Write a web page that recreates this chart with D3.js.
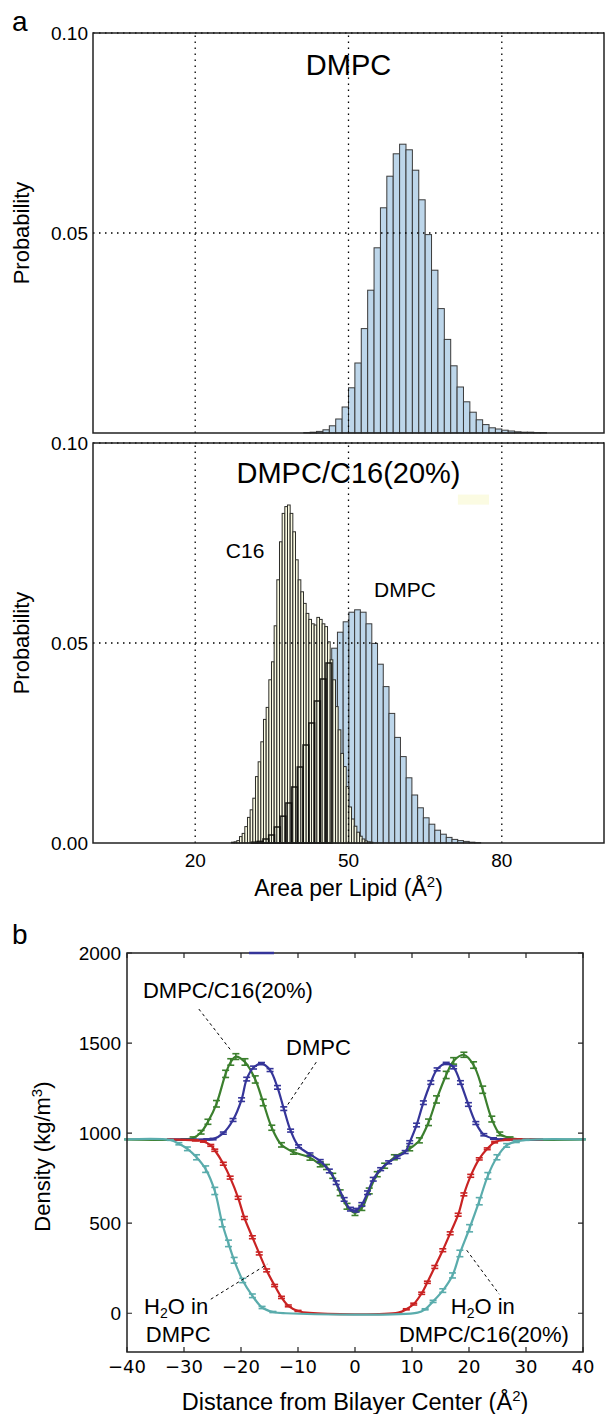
<!DOCTYPE html>
<html>
<head>
<meta charset="utf-8">
<script src="https://cdn.jsdelivr.net/npm/d3@7"></script>
<style>
body { margin: 0; background: #fff; }
svg { display: block; }
text { font-family: "Liberation Sans", Arial, sans-serif; fill: #000; }
</style>
</head>
<body>
<div id="app"></div>
<script>
// ---- panel a: area per lipid histograms (first bin start, bin width, probability per bin)
const dmpcPureStart = 41.25;
const dmpcPureWidth = 1.25;
const dmpcPure = [0.0001, 0.0002, 0.0004, 0.0008, 0.0018, 0.0035, 0.0065, 0.0113, 0.0175, 0.0261,
	0.0357, 0.0463, 0.0563, 0.0642, 0.0698, 0.0722, 0.0708, 0.0657, 0.0583, 0.0496,
	0.0407, 0.0311, 0.0234, 0.0168, 0.0115, 0.0078, 0.0052, 0.0033, 0.0021, 0.0013,
	0.0010, 0.0007, 0.0005, 0.0003, 0.0002, 0.0002, 0.0001, 0.0001];

const dmpcMixStart = 31.02;
const dmpcMixWidth = 1.121;
const dmpcMix = [0.0002, 0.0004, 0.0010, 0.0020, 0.0040, 0.0067, 0.0100, 0.0140, 0.0190, 0.0245,
	0.0300, 0.0355, 0.0410, 0.0450, 0.0487, 0.0527, 0.0553, 0.0577, 0.0583, 0.0577,
	0.0548, 0.0499, 0.0447, 0.0391, 0.0324, 0.0264, 0.0216, 0.0163, 0.0120, 0.0088,
	0.0063, 0.0047, 0.0032, 0.0022, 0.0014, 0.0009, 0.0006, 0.0004, 0.0002, 0.0001];

const c16MixStart = 27.1;
const c16MixWidth = 0.522;
const c16Mix = [0.0002, 0.0003, 0.0006, 0.0016, 0.0024, 0.0041, 0.0064, 0.0083, 0.0112, 0.0166,
	0.0203, 0.0253, 0.0309, 0.0339, 0.0408, 0.0453, 0.0543, 0.0658, 0.0753, 0.0824,
	0.0841, 0.0845, 0.0824, 0.0778, 0.0708, 0.0658, 0.0628, 0.0599, 0.0574, 0.0559,
	0.0548, 0.0545, 0.0564, 0.0559, 0.0548, 0.0541, 0.0503, 0.0458, 0.0408, 0.0341,
	0.0283, 0.0224, 0.0191, 0.0141, 0.0090, 0.0060, 0.0042, 0.0027, 0.0017, 0.0010,
	0.0005, 0.0003, 0.0002];

const areaTicks = [20, 50, 80];
const probTicksTop = [0.05, 0.10];
const probTicksBottom = [0.00, 0.05, 0.10];

// ---- panel b: density profiles, [distance, density, error]
const dmpcProfile = [[-33, 965, 0], [-26, 965, 3], [-24.9, 967, 4], [-23.1, 1000, 6], [-21.4, 1073, 8],
	[-19.9, 1186, 10], [-19.0, 1300, 10], [-17.8, 1364, 8], [-16.4, 1386, 6], [-14.9, 1350, 8],
	[-13.6, 1254, 10], [-12.5, 1136, 10], [-11.3, 1014, 8], [-9.9, 927, 8], [-7.9, 882, 8],
	[-6.1, 845, 8], [-4.5, 790, 10], [-3.3, 725, 10], [-1.9, 632, 10], [-0.8, 578, 10],
	[0.2, 572, 10], [1.2, 604, 10], [2.2, 669, 10], [3.2, 744, 10], [4.5, 800, 8],
	[5.9, 838, 8], [7.4, 868, 8], [8.8, 895, 8], [9.6, 950, 8], [10.8, 1045, 10],
	[12.0, 1169, 10], [13.3, 1281, 10], [14.4, 1354, 8], [16.0, 1387, 6], [17.3, 1365, 8],
	[18.5, 1281, 10], [19.9, 1159, 10], [21.2, 1056, 8], [22.6, 991, 6], [24.3, 970, 4],
	[26, 965, 3], [33, 965, 0]];

const mixProfile = [[-40.5, 965, 0], [-30, 965, 3], [-28.4, 973, 6], [-27.0, 1005, 10], [-25.8, 1063, 14],
	[-24.3, 1163, 18], [-22.7, 1329, 20], [-21.8, 1395, 18], [-20.9, 1425, 16], [-19.3, 1395, 18],
	[-17.5, 1298, 20], [-16.1, 1170, 18], [-14.6, 1030, 14], [-12.9, 935, 12], [-10.8, 895, 12],
	[-7.9, 864, 14], [-6.1, 827, 14], [-5.0, 812, 14], [-3.9, 763, 14], [-2.6, 669, 16],
	[-1.4, 594, 16], [0, 557, 14], [1.2, 585, 14], [2.5, 679, 16], [3.9, 772, 14],
	[5.2, 819, 14], [6.9, 866, 14], [9.6, 914, 12], [11.3, 960, 14], [12.9, 1060, 18],
	[14.3, 1187, 20], [16.0, 1323, 20], [17.3, 1401, 18], [19.1, 1435, 14], [20.8, 1378, 18],
	[22.4, 1241, 20], [24.0, 1078, 16], [25.4, 996, 10], [27.2, 973, 6], [29, 965, 3],
	[40.5, 965, 0]];

const waterDmpcProfile = [[-33, 965, 0], [-28, 960, 3], [-26.6, 954, 4], [-25.3, 932, 5], [-24.6, 905, 6],
	[-23.1, 830, 8], [-21.9, 753, 8], [-20.5, 641, 8], [-19.4, 529, 8], [-18.0, 422, 8],
	[-16.8, 332, 8], [-15.5, 238, 8], [-14.1, 154, 6], [-12.9, 88, 6], [-11.7, 41, 5],
	[-10.0, 13, 3], [-8.0, 2, 0], [7.6, 4, 0], [9.0, 22, 3], [10.3, 51, 5],
	[11.7, 111, 6], [12.7, 172, 6], [14.0, 257, 8], [15.4, 350, 8], [16.7, 444, 8],
	[18.1, 547, 8], [19.1, 660, 8], [20.3, 763, 8], [21.8, 857, 6], [23.2, 913, 5],
	[24.5, 950, 4], [26.6, 963, 3], [33, 965, 0]];

const waterMixProfile = [[-40.5, 965, 0], [-32.4, 962, 2], [-30.9, 941, 6], [-29.4, 913, 10], [-27.8, 866, 14],
	[-26.2, 800, 18], [-24.6, 679, 20], [-23.3, 500, 20], [-22.2, 388, 18], [-21.2, 294, 16],
	[-19.7, 182, 12], [-18.0, 97, 10], [-16.3, 32, 6], [-14.4, 7, 3], [-12.1, 0, 0],
	[11.0, 4, 0], [12.3, 22, 3], [13.7, 66, 6], [15.4, 126, 10], [17.1, 210, 14],
	[18.4, 332, 18], [20.1, 472, 20], [21.8, 622, 20], [23.3, 763, 18], [24.9, 866, 14],
	[26.6, 932, 10], [28.3, 954, 6], [30.0, 963, 3], [40.5, 965, 0]];

const distanceTicks = [-40, -30, -20, -10, 0, 10, 20, 30, 40];
const densityTicks = [0, 500, 1000, 1500, 2000];

const toBins = (start, width, values) => values.map((p, i) => ({
	x0: start + i * width,
	x1: start + (i + 1) * width,
	p,
}));

const svg = d3.select('#app').append('svg')
	.attr('width', 606)
	.attr('height', 1414);

// ================= panel a =================
const xA = d3.scaleLinear().domain([0, 100]).range([93, 604]);
const yTop = d3.scaleLinear().domain([0, 0.1]).range([433, 33]);
const yBot = d3.scaleLinear().domain([0, 0.1]).range([843, 443]);

const bars = (g, bins, y, fill, stroke, fillOpacity) => {
	g.append('g')
		.selectAll('rect')
		.data(bins)
		.enter()
		.append('rect')
		.attr('x', (d) => xA(d.x0))
		.attr('width', (d) => xA(d.x1) - xA(d.x0))
		.attr('y', (d) => y(d.p))
		.attr('height', (d) => y(0) - y(d.p))
		.attr('fill', fill)
		.attr('fill-opacity', fillOpacity)
		.attr('stroke', stroke)
		.attr('stroke-width', 1);
};

const grid = (g, y, yTicks) => {
	g.append('g')
		.selectAll('line')
		.data(areaTicks)
		.enter()
		.append('line')
		.attr('x1', (d) => xA(d))
		.attr('x2', (d) => xA(d))
		.attr('y1', y(0))
		.attr('y2', y(0.1))
		.attr('stroke', '#000')
		.attr('stroke-width', 1.3)
		.attr('stroke-dasharray', '1.5,4.5');
	g.append('g')
		.selectAll('line')
		.data(yTicks)
		.enter()
		.append('line')
		.attr('x1', xA(0))
		.attr('x2', xA(100))
		.attr('y1', (d) => y(d))
		.attr('y2', (d) => y(d))
		.attr('stroke', '#000')
		.attr('stroke-width', 1.3)
		.attr('stroke-dasharray', '1.5,4.5');
};

const frame = (g, y) => {
	g.append('rect')
		.attr('x', xA(0))
		.attr('y', y(0.1))
		.attr('width', xA(100) - xA(0))
		.attr('height', y(0) - y(0.1))
		.attr('fill', 'none')
		.attr('stroke', '#222')
		.attr('stroke-width', 1.5);
};

const yTickLabels = (g, y, ticks) => {
	g.append('g')
		.selectAll('text')
		.data(ticks)
		.enter()
		.append('text')
		.attr('x', xA(0) - 5)
		.attr('y', (d) => y(d))
		.attr('dy', '0.35em')
		.attr('text-anchor', 'end')
		.attr('font-size', 19)
		.text((d) => d3.format('.2f')(d));
};

const probLabel = (g, y) => {
	g.append('text')
		.attr('transform', `translate(29, ${y(0.05)}) rotate(-90)`)
		.attr('text-anchor', 'middle')
		.attr('font-size', 22)
		.text('Probability');
};

// top: pure DMPC
const topPanel = svg.append('g');
bars(topPanel, toBins(dmpcPureStart, dmpcPureWidth, dmpcPure), yTop, '#bdd6ea', '#3a3a3a', 1);
grid(topPanel, yTop, probTicksTop);
frame(topPanel, yTop);
yTickLabels(topPanel, yTop, probTicksTop);
probLabel(topPanel, yTop);
topPanel.append('text')
	.attr('x', xA(50))
	.attr('y', 75)
	.attr('text-anchor', 'middle')
	.attr('font-size', 29)
	.text('DMPC');

// bottom: DMPC/C16 mixture
const botPanel = svg.append('g');
const mixBins = toBins(dmpcMixStart, dmpcMixWidth, dmpcMix);
const c16Bins = toBins(c16MixStart, c16MixWidth, c16Mix);
const c16At = (v) => {
	const b = c16Bins.find((d) => d.x0 <= v && v < d.x1);
	return b ? b.p : 0;
};
bars(botPanel, mixBins, yBot, '#bdd6ea', '#3a3a3a', 1);
bars(botPanel, c16Bins, yBot, '#fbfbdf', '#2e2e2a', 0.88);
// DMPC bars seen through the taller C16 bars
botPanel.append('g')
	.selectAll('rect')
	.data(mixBins.filter((d) => c16At((d.x0 + d.x1) / 2) > d.p))
	.enter()
	.append('rect')
	.attr('x', (d) => xA(d.x0))
	.attr('width', (d) => xA(d.x1) - xA(d.x0))
	.attr('y', (d) => yBot(d.p))
	.attr('height', (d) => yBot(0) - yBot(d.p))
	.attr('fill', 'none')
	.attr('stroke', '#0c0c08')
	.attr('stroke-width', 1.6)
	.attr('stroke-opacity', 0.85);
grid(botPanel, yBot, probTicksBottom.filter((d) => d > 0));
frame(botPanel, yBot);
yTickLabels(botPanel, yBot, probTicksBottom);
probLabel(botPanel, yBot);

// leftover legend patch
botPanel.append('rect')
	.attr('x', xA(71.4))
	.attr('y', yBot(0.0871))
	.attr('width', xA(77.5) - xA(71.4))
	.attr('height', yBot(0.0846) - yBot(0.0871))
	.attr('fill', '#fbfbe2');

botPanel.append('text')
	.attr('x', xA(50))
	.attr('y', 483)
	.attr('text-anchor', 'middle')
	.attr('font-size', 29)
	.text('DMPC/C16(20%)');
botPanel.append('text')
	.attr('x', xA(26))
	.attr('y', yBot(0.0712))
	.attr('font-size', 21)
	.text('C16');
botPanel.append('text')
	.attr('x', xA(55))
	.attr('y', yBot(0.0614))
	.attr('font-size', 21)
	.text('DMPC');

botPanel.append('g')
	.selectAll('text')
	.data(areaTicks)
	.enter()
	.append('text')
	.attr('x', (d) => xA(d))
	.attr('y', 867)
	.attr('text-anchor', 'middle')
	.attr('font-size', 19)
	.text((d) => d);

const areaLabel = botPanel.append('text')
	.attr('x', xA(50))
	.attr('y', 896)
	.attr('text-anchor', 'middle')
	.attr('font-size', 23);
areaLabel.append('tspan').text('Area per Lipid (Å');
areaLabel.append('tspan').attr('dy', -9).attr('font-size', 15).text('2');
areaLabel.append('tspan').attr('dy', 9).text(')');

svg.append('text').attr('x', 12).attr('y', 31).attr('font-size', 28).text('a');

// ================= panel b =================
const xB = d3.scaleLinear().domain([-40, 40]).range([127, 583]);
const yB = d3.scaleLinear().domain([-215, 2000]).range([1352, 953]);
const pb = svg.append('g');

pb.append('text').attr('x', 12).attr('y', 944).attr('font-size', 28).text('b');

const profileLine = d3.line()
	.x((d) => xB(d[0]))
	.y((d) => yB(d[1]))
	.curve(d3.curveCatmullRom.alpha(0.5));

const profiles = [
	{data: mixProfile, color: '#3b7f2d'},
	{data: dmpcProfile, color: '#353599'},
	{data: waterDmpcProfile, color: '#c92323'},
	{data: waterMixProfile, color: '#5aacac'},
];

profiles.forEach((s) => {
	const g = pb.append('g');
	g.append('path')
		.attr('d', profileLine(s.data))
		.attr('fill', 'none')
		.attr('stroke', s.color)
		.attr('stroke-width', 2.2);
	const eb = g.selectAll('g')
		.data(s.data.filter((d) => d[2] > 0))
		.enter()
		.append('g')
		.attr('stroke', s.color)
		.attr('stroke-width', 1.6);
	eb.append('line')
		.attr('x1', (d) => xB(d[0]))
		.attr('x2', (d) => xB(d[0]))
		.attr('y1', (d) => yB(d[1] - d[2]))
		.attr('y2', (d) => yB(d[1] + d[2]));
	eb.append('line')
		.attr('x1', (d) => xB(d[0]) - 3.5)
		.attr('x2', (d) => xB(d[0]) + 3.5)
		.attr('y1', (d) => yB(d[1] - d[2]))
		.attr('y2', (d) => yB(d[1] - d[2]));
	eb.append('line')
		.attr('x1', (d) => xB(d[0]) - 3.5)
		.attr('x2', (d) => xB(d[0]) + 3.5)
		.attr('y1', (d) => yB(d[1] + d[2]))
		.attr('y2', (d) => yB(d[1] + d[2]));
});

// frame and inward ticks
pb.append('rect')
	.attr('x', xB(-40))
	.attr('y', yB(2000))
	.attr('width', xB(40) - xB(-40))
	.attr('height', yB(-215) - yB(2000))
	.attr('fill', 'none')
	.attr('stroke', '#222')
	.attr('stroke-width', 1.5);

pb.append('line')
	.attr('x1', xB(-18.6))
	.attr('x2', xB(-14.2))
	.attr('y1', yB(2000))
	.attr('y2', yB(2000))
	.attr('stroke', '#353599')
	.attr('stroke-width', 2.5);

const tickLen = 5;
pb.append('g')
	.selectAll('path')
	.data(distanceTicks)
	.enter()
	.append('path')
	.attr('d', (d) => `M${xB(d)},${yB(2000)}v${tickLen}M${xB(d)},${yB(-215)}v${-tickLen}`)
	.attr('stroke', '#222')
	.attr('stroke-width', 1.2);
pb.append('g')
	.selectAll('path')
	.data(densityTicks)
	.enter()
	.append('path')
	.attr('d', (d) => `M${xB(-40)},${yB(d)}h${tickLen}M${xB(40)},${yB(d)}h${-tickLen}`)
	.attr('stroke', '#222')
	.attr('stroke-width', 1.2);

pb.append('g')
	.selectAll('text')
	.data(densityTicks)
	.enter()
	.append('text')
	.attr('x', xB(-40) - 6)
	.attr('y', (d) => yB(d))
	.attr('dy', '0.35em')
	.attr('text-anchor', 'end')
	.attr('font-size', 19)
	.text((d) => d);

pb.append('g')
	.selectAll('text')
	.data(distanceTicks)
	.enter()
	.append('text')
	.attr('x', (d) => xB(d))
	.attr('y', 1373)
	.attr('text-anchor', 'middle')
	.attr('font-size', 18)
	.style('font-family', '"DejaVu Sans", sans-serif')
	.text((d) => (d < 0 ? '\u2212' + Math.abs(d) : d));

const distLabel = pb.append('text')
	.attr('x', xB(0))
	.attr('y', 1410)
	.attr('text-anchor', 'middle')
	.attr('font-size', 23.5);
distLabel.append('tspan').text('Distance from Bilayer Center (Å');
distLabel.append('tspan').attr('dy', -9).attr('font-size', 15).text('2');
distLabel.append('tspan').attr('dy', 9).text(')');

const densLabel = pb.append('text')
	.attr('transform', `translate(50, ${yB(870)}) rotate(-90)`)
	.attr('text-anchor', 'middle')
	.attr('font-size', 22);
densLabel.append('tspan').text('Density (kg/m');
densLabel.append('tspan').attr('dy', -8).attr('font-size', 15).text('3');
densLabel.append('tspan').attr('dy', 8).text(')');

// annotations with dashed leaders
const leader = (x1, y1, x2, y2) => {
	pb.append('line')
		.attr('x1', xB(x1)).attr('y1', yB(y1))
		.attr('x2', xB(x2)).attr('y2', yB(y2))
		.attr('stroke', '#000')
		.attr('stroke-width', 1)
		.attr('stroke-dasharray', '3,3');
};
const note = (x, y, str) => pb.append('text')
	.attr('x', xB(x))
	.attr('y', yB(y))
	.attr('font-size', 22)
	.text(str);
const waterNote = (x, y) => {
	const t = pb.append('text')
		.attr('x', xB(x))
		.attr('y', yB(y))
		.attr('font-size', 22);
	t.append('tspan').text('H');
	t.append('tspan').attr('dy', 4).attr('font-size', 14).text('2');
	t.append('tspan').attr('dy', -4).text('O in');
};

note(-37.2, 1750, 'DMPC/C16(20%)');
leader(-27.4, 1689, -21.8, 1461);
note(-12.1, 1433, 'DMPC');
leader(-6.8, 1394, -12.1, 1144);
waterNote(-37, -5);
note(-36.7, -162, 'DMPC');
leader(-25.3, 78, -15.4, 272);
waterNote(16.8, -5);
note(7.7, -162, 'DMPC/C16(20%)');
leader(19.6, 350, 25.3, 106);
</script>
</body>
</html>
